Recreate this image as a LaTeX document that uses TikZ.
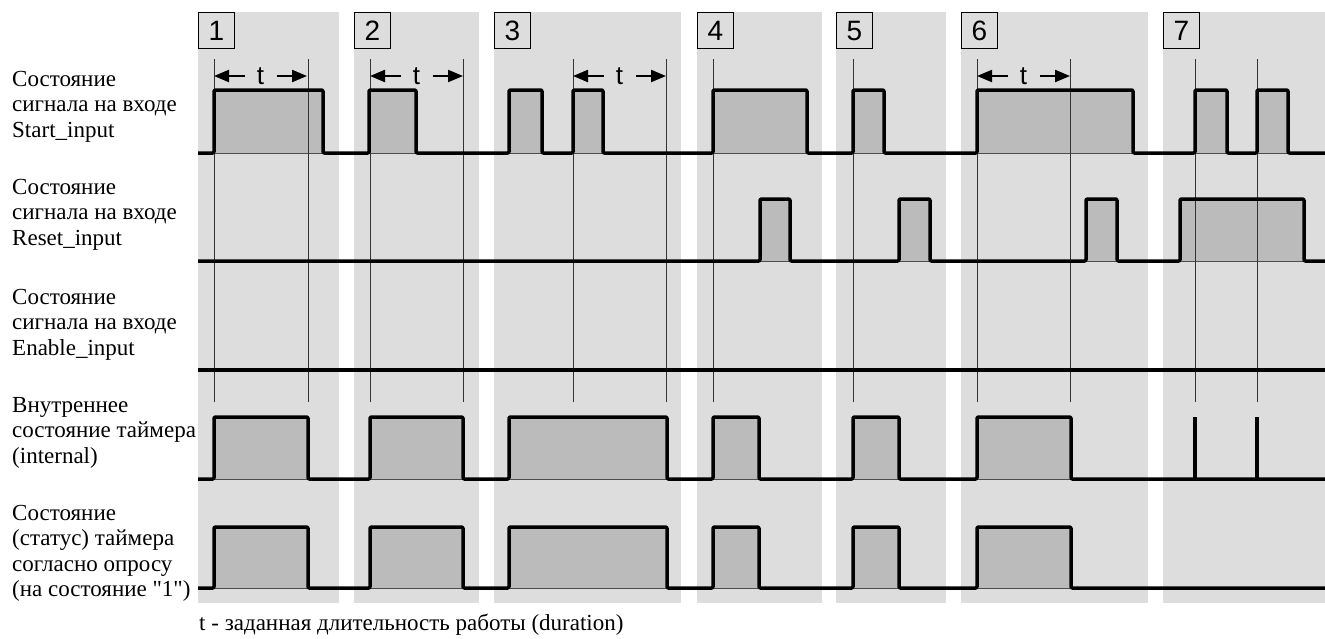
\documentclass[tikz,border=0pt]{standalone}
\usepackage{fontspec}
\setmainfont{Liberation Serif}
\newfontfamily\qfont{Liberation Serif}[Ligatures=TeXOff]
\newfontfamily\sansf{Liberation Sans}
\usetikzlibrary{arrows.meta}
\definecolor{panel}{HTML}{DDDDDD}
\definecolor{pulse}{HTML}{BBBBBB}
\tikzset{
  wave/.style={line width=3.5pt, line join=round, rounded corners=1.2pt},
  spike/.style={line width=3.5pt, line cap=butt},
  pulsefill/.style={fill=pulse, draw=black!70, line width=0.6pt},
  marker/.style={draw=black!80, line width=0.9pt},
  numbox/.style={draw, line width=0.8pt, fill=panel, minimum width=36pt, minimum height=36pt,
    inner sep=0pt, anchor=north west, text height=20pt, text depth=0pt,
    font=\sansf\fontsize{28}{28}\selectfont},
  rowlabel/.style={anchor=base west, inner sep=0pt, font=\fontsize{23}{25.5}\selectfont},
  tlabel/.style={inner sep=0pt, font=\sansf\fontsize{26}{26}\selectfont},
  dimarrow/.style={-{Triangle[length=15pt,width=12pt]}, line width=2.2pt},
}
\begin{document}
\begin{tikzpicture}[x=1pt,y=-1pt]
\useasboundingbox (0,0) rectangle (1325,638);
% panels
\foreach \a/\b in {198/339,354/479,494/681,697/822,836/946,961/1148,1163/1325}
  \fill[panel] (\a,12) rectangle (\b,603);
% pulse fills
\foreach \a/\b in {214/323,369/416,509/542,573/603,713/807,853/884,977/1133,1195/1227,1257/1288}
  \filldraw[pulsefill] (\a,153) rectangle (\b,90);
\foreach \a/\b in {760/790,899/930,1086/1117,1180/1304}
  \filldraw[pulsefill] (\a,261) rectangle (\b,199);
\foreach \a/\b in {214/308,370/463,509/667,713/759,853/899,977/1071}
  {\filldraw[pulsefill] (\a,479) rectangle (\b,417);
   \filldraw[pulsefill] (\a,588) rectangle (\b,527);}
% marker lines
\foreach \x in {214,308,370,463,573,666,713,853,977,1070,1195,1257}
  \draw[marker] (\x,59) -- (\x,402);
% waveforms
\draw[wave] (198,153) foreach \a/\b in {214/323,369/416,509/542,573/603,713/807,853/884,977/1133,1195/1227,1257/1288}
  { -- (\a,153) -- (\a,90) -- (\b,90) -- (\b,153) } -- (1325,153);
\draw[wave] (198,261) foreach \a/\b in {760/790,899/930,1086/1117,1180/1304}
  { -- (\a,261) -- (\a,199) -- (\b,199) -- (\b,261) } -- (1325,261);
\draw[wave] (198,370) -- (1325,370);
\draw[wave] (198,479) foreach \a/\b in {214/308,370/463,509/667,713/759,853/899,977/1071}
  { -- (\a,479) -- (\a,417) -- (\b,417) -- (\b,479) } -- (1325,479);
\draw[spike] (1195,479) -- (1195,417);
\draw[spike] (1257,479) -- (1257,417);
\draw[wave] (198,588) foreach \a/\b in {214/308,370/463,509/667,713/759,853/899,977/1071}
  { -- (\a,588) -- (\a,527) -- (\b,527) -- (\b,588) } -- (1325,588);
% number boxes
\foreach \x/\n in {198/1,354/2,494/3,697/4,836/5,961/6,1163/7}
  \node[numbox] (n\n) at (\x,12) {\n};
% duration arrows
\foreach \a/\b/\i in {214/307/1,370/463/2,573/666/3,977/1070/6} {
  \node[tlabel] (t\i) at ({(\a+\b)/2},76) {t};
  \draw[dimarrow] ([xshift=-16pt]t\i.center) -- (\a,76);
  \draw[dimarrow] ([xshift=16pt]t\i.center) -- (\b,76);
}
% row labels
\node[rowlabel] (lstart) at (12,86) {\begin{tabular}[t]{@{}l@{}}Состояние\\сигнала на входе\\Start\_input\end{tabular}};
\node[rowlabel] (lreset) at (12,194) {\begin{tabular}[t]{@{}l@{}}Состояние\\сигнала на входе\\Reset\_input\end{tabular}};
\node[rowlabel] (lenable) at (12,304) {\begin{tabular}[t]{@{}l@{}}Состояние\\сигнала на входе\\Enable\_input\end{tabular}};
\node[rowlabel] (linternal) at (12,412) {\begin{tabular}[t]{@{}l@{}}Внутреннее\\состояние таймера\\(internal)\end{tabular}};
\node[rowlabel] (lstatus) at (12,520) {\begin{tabular}[t]{@{}l@{}}Состояние\\(статус) таймера\\согласно опросу\\{\qfont(на состояние "1")}\end{tabular}};
\node[rowlabel] (footer) at (199,630) {t - заданная длительность работы (duration)};
\end{tikzpicture}
\end{document}
